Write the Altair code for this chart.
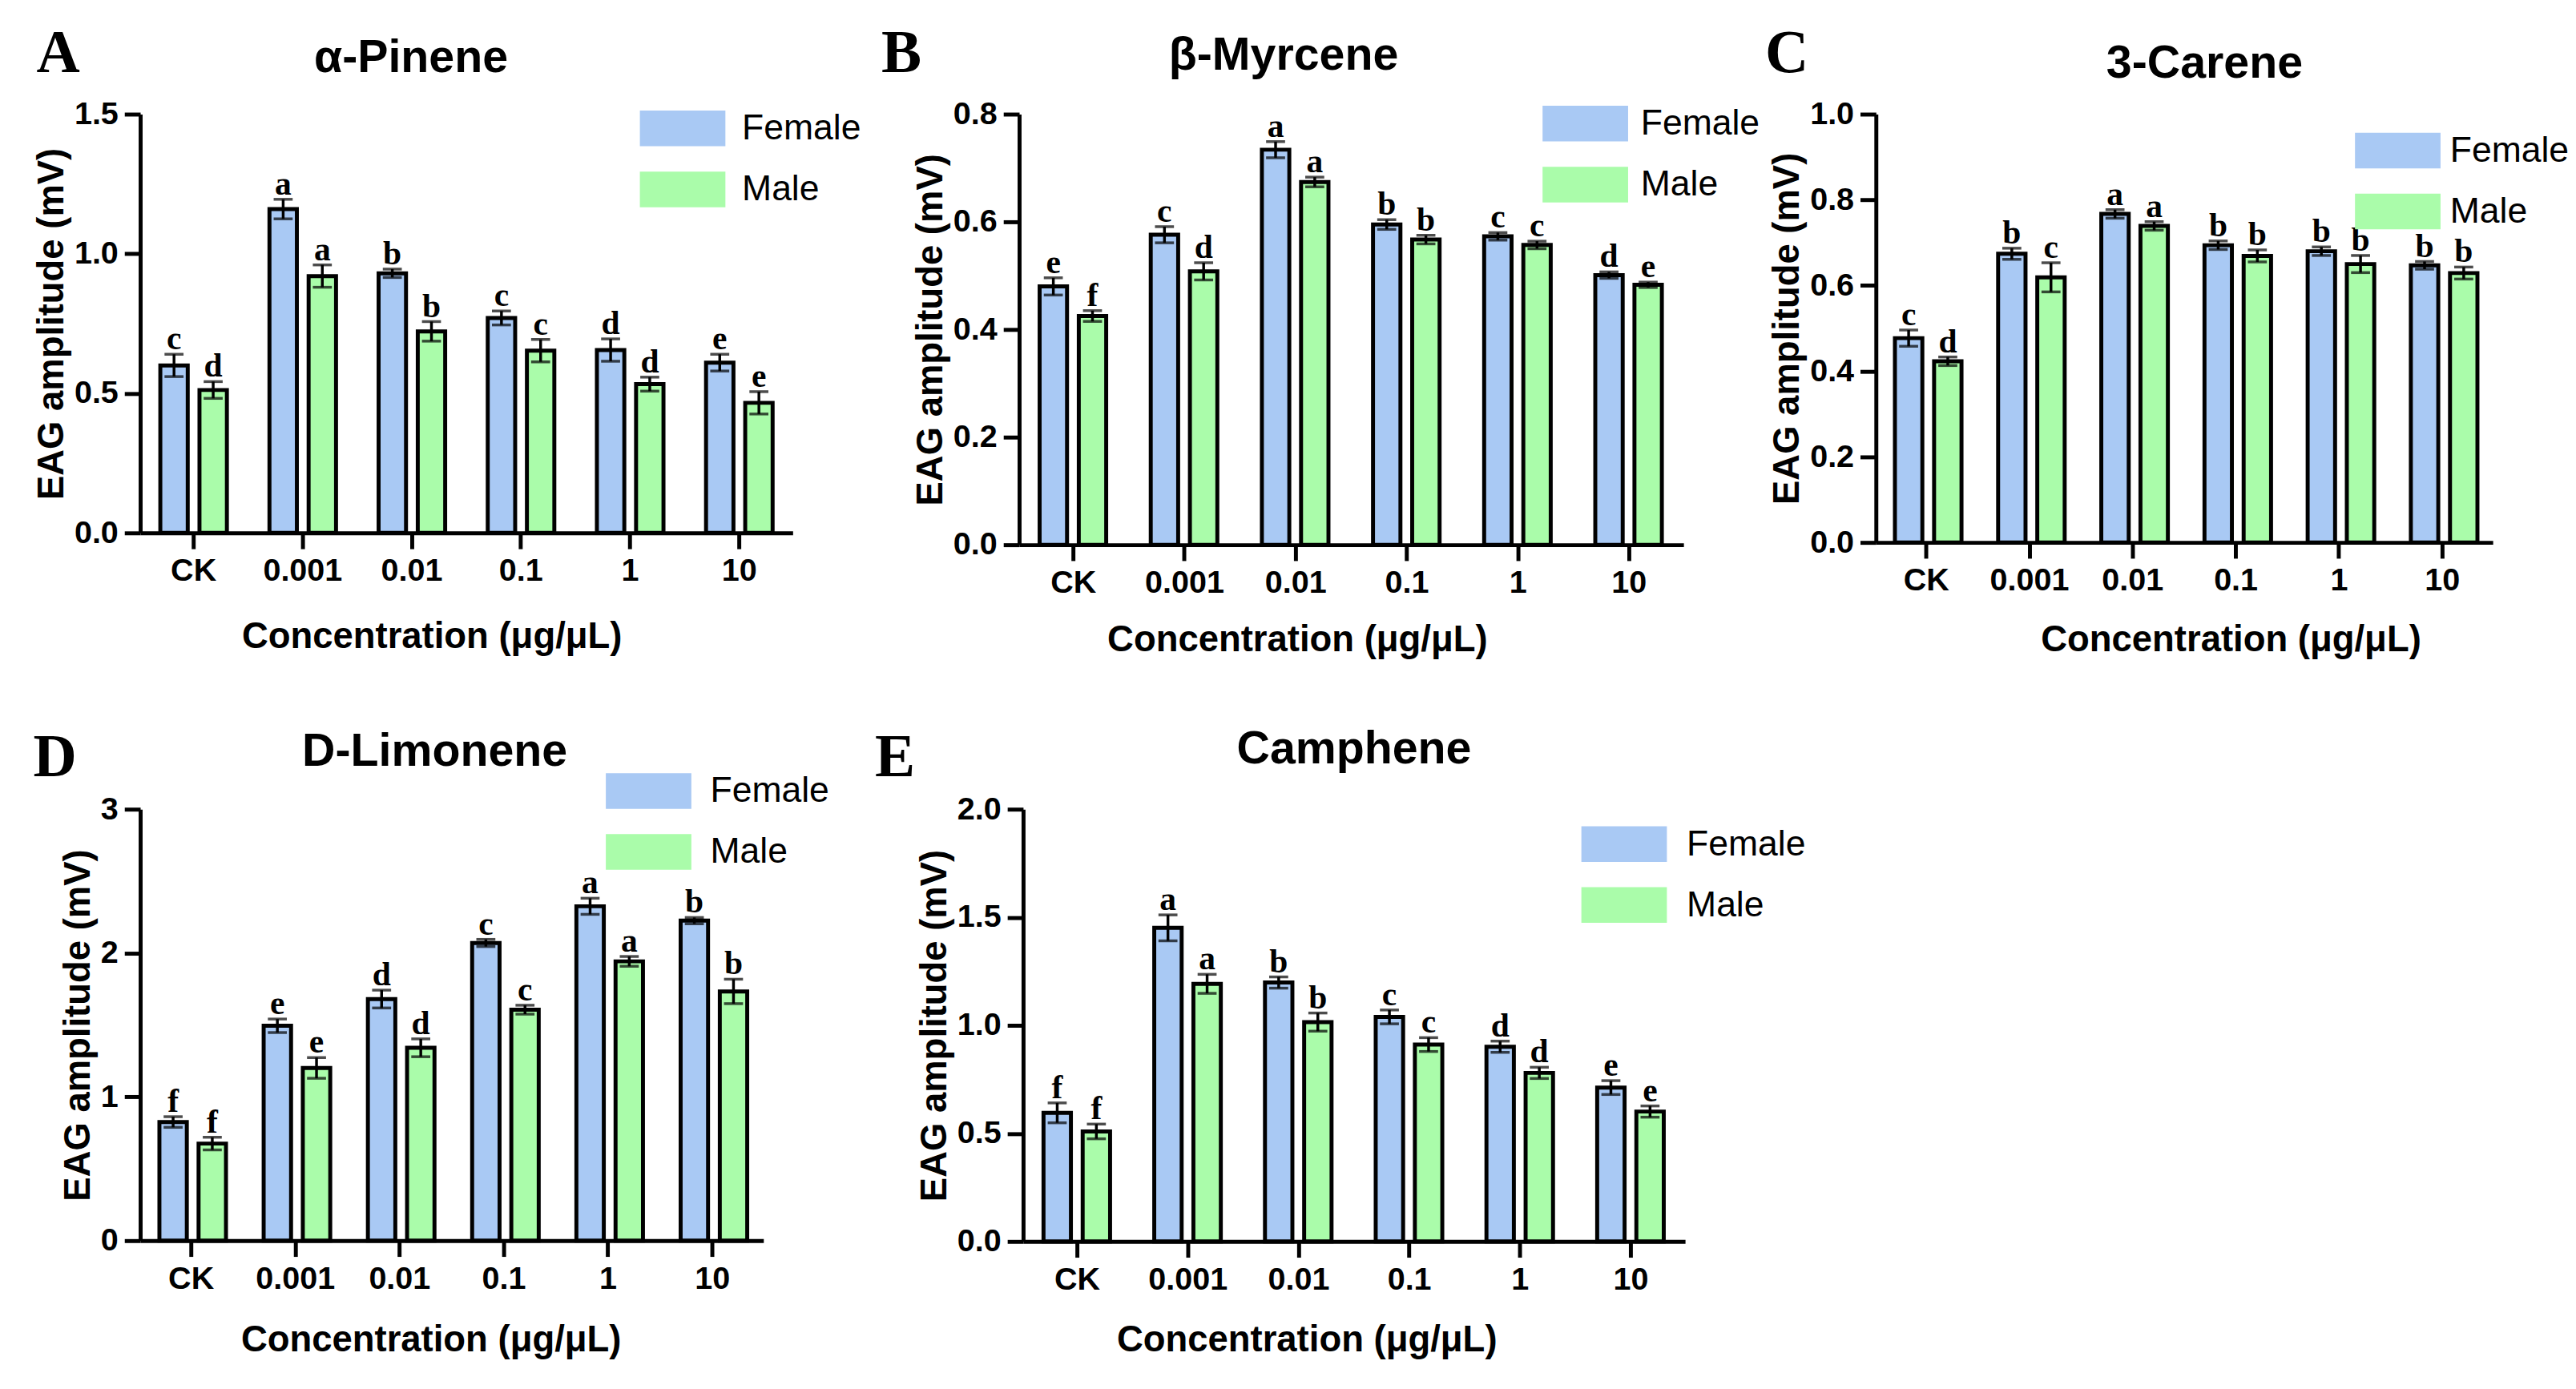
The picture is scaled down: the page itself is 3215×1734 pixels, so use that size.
import altair as alt
import pandas as pd

concs = ["CK", "0.001", "0.01", "0.1", "1", "10"]
sexes = ["Female", "Male"]
colors = ["#A9C9F4", "#AAFCAA"]

# alpha-Pinene
pin_f = [0.60, 1.16, 0.93, 0.77, 0.655, 0.61]
pin_f_err = [0.04, 0.035, 0.015, 0.025, 0.04, 0.03]
pin_m = [0.512, 0.92, 0.722, 0.653, 0.533, 0.466]
pin_m_err = [0.03, 0.04, 0.035, 0.04, 0.025, 0.04]
pin_f_sig = ["c", "a", "b", "c", "d", "e"]
pin_m_sig = ["d", "a", "b", "c", "d", "e"]

# beta-Myrcene
myr_f = [0.48, 0.576, 0.734, 0.595, 0.573, 0.501]
myr_f_err = [0.016, 0.015, 0.015, 0.009, 0.007, 0.006]
myr_m = [0.425, 0.508, 0.674, 0.567, 0.557, 0.483]
myr_m_err = [0.01, 0.016, 0.009, 0.008, 0.007, 0.005]
myr_f_sig = ["e", "c", "a", "b", "c", "d"]
myr_m_sig = ["f", "d", "a", "b", "c", "e"]

# 3-Carene
car_f = [0.477, 0.674, 0.767, 0.694, 0.68, 0.647]
car_f_err = [0.019, 0.013, 0.01, 0.01, 0.01, 0.009]
car_m = [0.423, 0.619, 0.739, 0.669, 0.65, 0.629]
car_m_err = [0.01, 0.034, 0.01, 0.014, 0.02, 0.014]
car_f_sig = ["c", "b", "a", "b", "b", "b"]
car_m_sig = ["d", "c", "a", "b", "b", "b"]

# D-Limonene
lim_f = [0.825, 1.494, 1.68, 2.07, 2.325, 2.225]
lim_f_err = [0.037, 0.047, 0.062, 0.025, 0.056, 0.022]
lim_m = [0.675, 1.201, 1.341, 1.606, 1.942, 1.733]
lim_m_err = [0.044, 0.072, 0.062, 0.031, 0.034, 0.085]
lim_f_sig = ["f", "e", "d", "c", "a", "b"]
lim_m_sig = ["f", "e", "d", "c", "a", "b"]

# Camphene
cam_f = [0.595, 1.451, 1.198, 1.039, 0.901, 0.712]
cam_f_err = [0.046, 0.06, 0.026, 0.032, 0.026, 0.032]
cam_m = [0.509, 1.192, 1.015, 0.911, 0.78, 0.601]
cam_m_err = [0.034, 0.044, 0.042, 0.032, 0.026, 0.026]
cam_f_sig = ["f", "a", "b", "c", "d", "e"]
cam_m_sig = ["f", "a", "b", "c", "d", "e"]

SANS = "Liberation Sans"
SERIF = "Liberation Serif"
RECT = "M-1,-0.417L1,-0.417L1,0.417L-1,0.417Z"


def panel(name, letter, f, ferr, m, merr, fsig, msig, ymax, yticks, yfmt,
          w, h, leg_xy, leg_off, title_xy, letter_xy, xtitle_xy):
    df = pd.DataFrame({
        "conc": concs * 2,
        "sex": ["Female"] * 6 + ["Male"] * 6,
        "mean": f + m,
        "err": ferr + merr,
        "sig": fsig + msig,
    })
    base = alt.Chart(df).transform_calculate(
        lo="datum.mean - datum.err", hi="datum.mean + datum.err"
    ).encode(
        x=alt.X("conc:N", sort=concs,
                scale=alt.Scale(domain=concs, paddingInner=0.39, paddingOuter=0.184),
                axis=alt.Axis(title="Concentration (μg/μL)", labelAngle=0,
                              titleX=xtitle_xy[0], titleY=xtitle_xy[1],
                              titleAlign="center", titleBaseline="alphabetic")),
        xOffset=alt.XOffset("sex:N", sort=sexes,
                            scale=alt.Scale(domain=sexes, paddingInner=0.3, paddingOuter=0)),
    )
    yscale = alt.Scale(domain=[0, ymax], nice=False)
    bars = base.mark_bar(stroke="black", strokeWidth=5).encode(
        y=alt.Y("mean:Q", scale=yscale,
                axis=alt.Axis(title="EAG amplitude (mV)", values=yticks, format=yfmt)),
        color=alt.Color("sex:N", scale=alt.Scale(domain=sexes, range=colors),
                        legend=alt.Legend(orient="none", legendX=leg_xy[0], legendY=leg_xy[1] - 34,
                                          title=None, direction="vertical",
                                          symbolType=RECT, symbolSize=11664,
                                          symbolStrokeWidth=0, symbolOpacity=1,
                                          labelFont=SANS, labelFontSize=45,
                                          labelFontWeight="normal", labelColor="black",
                                          labelOffset=leg_off, rowPadding=-15, padding=0)),
    )
    rule = base.mark_rule(color="black", strokeWidth=3.5).encode(
        y=alt.Y("lo:Q", scale=yscale), y2="hi:Q")
    cap_hi = base.mark_tick(color="black", size=24, thickness=3.5).encode(
        y=alt.Y("hi:Q", scale=yscale))
    cap_lo = base.mark_tick(color="black", size=24, thickness=3.5).encode(
        y=alt.Y("lo:Q", scale=yscale))
    sig = base.mark_text(font=SERIF, fontWeight="bold", fontSize=42,
                         baseline="alphabetic", dy=-6, color="black").encode(
        y=alt.Y("hi:Q", scale=yscale), text="sig:N")
    lab = alt.Chart(pd.DataFrame({"t": [letter]})).mark_text(
        font=SERIF, fontWeight="bold", fontSize=76, align="left",
        baseline="alphabetic", color="black").encode(
        text="t:N", x=alt.value(letter_xy[0]), y=alt.value(letter_xy[1]))
    ttl = alt.Chart(pd.DataFrame({"t": [name]})).mark_text(
        font=SANS, fontWeight="bold", fontSize=58, align="center",
        baseline="alphabetic", color="black").encode(
        text="t:N", x=alt.value(title_xy[0]), y=alt.value(title_xy[1]))
    return alt.layer(bars, rule, cap_hi, cap_lo, sig, lab, ttl).properties(width=w, height=h)


pA = panel("α-Pinene", "A", pin_f, pin_f_err, pin_m, pin_m_err, pin_f_sig, pin_m_sig,
           1.5, [0, 0.5, 1.0, 1.5], ".1f", 824, 529, (631, -2), 21, (342, -53), (-131, -53), (368, 145))
pB = panel("β-Myrcene", "B", myr_f, myr_f_err, myr_m, myr_m_err, myr_f_sig, myr_m_sig,
           0.8, [0, 0.2, 0.4, 0.6, 0.8], ".1f", 839, 544, (661, -8), 16, (334, -56), (-174, -53), (351, 134))
pC = panel("3-Carene", "C", car_f, car_f_err, car_m, car_m_err, car_f_sig, car_m_sig,
           1.0, [0, 0.2, 0.4, 0.6, 0.8, 1.0], ".1f", 779, 541, (605, 26), 12, (415, -46), (-140, -53), (448, 137))
pD = panel("D-Limonene", "D", lim_f, lim_f_err, lim_m, lim_m_err, lim_f_sig, lim_m_sig,
           3, [0, 1, 2, 3], "d", 787, 545, (588, -43), 24, (372, -55), (-135, -42), (367, 139))
pE = panel("Camphene", "E", cam_f, cam_f_err, cam_m, cam_m_err, cam_f_sig, cam_m_sig,
           2.0, [0, 0.5, 1.0, 1.5, 2.0], ".1f", 836, 546, (705, 24), 25, (418, -58), (-187, -42), (358, 138))

ab = alt.concat(pA, pB, columns=2, spacing=25).resolve_scale(color="independent")
row1 = alt.concat(ab, pC, columns=2, spacing=6).resolve_scale(color="independent")
row2 = alt.concat(pD, pE, columns=2, spacing=57).resolve_scale(color="independent")

chart = alt.concat(row1, row2, columns=1, spacing=87).resolve_scale(
    color="independent"
).properties(
    padding={"left": 34, "top": 12, "right": 0, "bottom": 5}
).configure_view(
    stroke=None
).configure_axis(
    grid=False,
    domainColor="black", domainWidth=5,
    tickColor="black", tickWidth=5, tickSize=20,
    labelFont=SANS, labelFontSize=40, labelFontWeight="bold", labelColor="black",
    labelPadding=8,
    titleFont=SANS, titleFontSize=46, titleFontWeight="bold", titleColor="black",
    titlePadding=4,
)

chart.save("out.html", embed_options={"renderer": "svg", "actions": False})
